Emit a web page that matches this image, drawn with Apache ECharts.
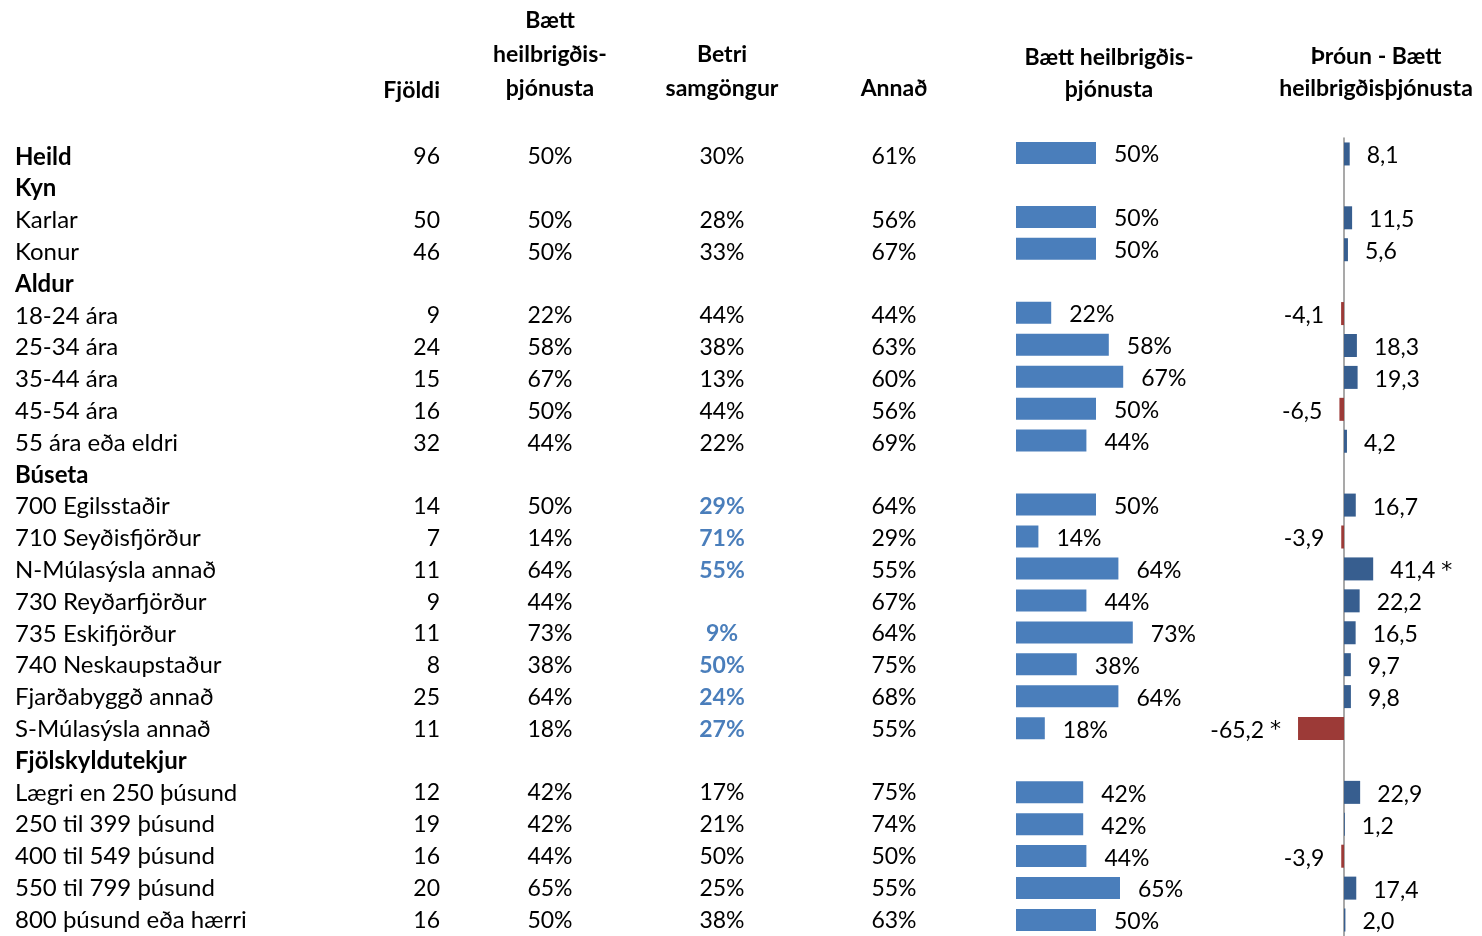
<!DOCTYPE html>
<html>
<head>
<meta charset="utf-8">
<script src="https://cdn.jsdelivr.net/npm/echarts@6/dist/echarts.min.js"></script>
<style>
html, body { margin: 0; padding: 0; background: #fff; }
#chart { width: 1482px; height: 936px; }
</style>
</head>
<body>
<div id="chart"></div>
<script>
// rows of the table, top to bottom
const rows = ['Heild', 'Kyn', 'Karlar', 'Konur', 'Aldur', '18-24 ára', '25-34 ára', '35-44 ára', '45-54 ára',
    '55 ára eða eldri', 'Búseta', '700 Egilsstaðir', '710 Seyðisfjörður', 'N-Múlasýsla annað', '730 Reyðarfjörður',
    '735 Eskifjörður', '740 Neskaupstaður', 'Fjarðabyggð annað', 'S-Múlasýsla annað', 'Fjölskyldutekjur',
    'Lægri en 250 þúsund', '250 til 399 þúsund', '400 til 549 þúsund', '550 til 799 þúsund', '800 þúsund eða hærri'];
const groupRows = ['Heild', 'Kyn', 'Aldur', 'Búseta', 'Fjölskyldutekjur'];

const fjoldi = [96, null, 50, 46, null, 9, 24, 15, 16, 32, null, 14, 7, 11, 9, 11, 8, 25, 11, null, 12, 19, 16, 20, 16];
const heilbr = [50, null, 50, 50, null, 22, 58, 67, 50, 44, null, 50, 14, 64, 44, 73, 38, 64, 18, null, 42, 42, 44, 65, 50];
const samgongur = [30, null, 28, 33, null, 44, 38, 13, 44, 22, null, 29, 71, 55, null, 9, 50, 24, 27, null, 17, 21, 50, 25, 38];
const annad = [61, null, 56, 67, null, 44, 63, 60, 56, 69, null, 64, 29, 55, 67, 64, 75, 68, 55, null, 75, 74, 50, 55, 63];
const samgMarked = [11, 12, 13, 15, 16, 17, 18]; // rows shown in blue bold
const trend = [8.1, null, 11.5, 5.6, null, -4.1, 18.3, 19.3, -6.5, 4.2, null, 16.7, -3.9, 41.4, 22.2, 16.5, 9.7, 9.8,
    -65.2, null, 22.9, 1.2, -3.9, 17.4, 2.0];
const trendSig = [13, 18]; // significant change, marked with *

const FONT = 'Lato';
const FS = 23;
const TOP = 139;
const TEXT_TOP = 141;
const H = 800;

const grids = [];
const xAxes = [];
const yAxes = [];
const series = [];

// one narrow grid per text column, values placed by the category axis
function textColumn(x, align, formatter, inside, fontSize) {
    const i = grids.length;
    const fs = fontSize || FS;
    grids.push({ left: x, top: TEXT_TOP, width: 1, height: H });
    xAxes.push({ gridIndex: i, type: 'value', show: false });
    yAxes.push({
        gridIndex: i, type: 'category', data: rows, inverse: true,
        axisLine: { show: false }, axisTick: { show: false }, splitLine: { show: false },
        axisLabel: {
            interval: 0, inside: !!inside, margin: 0, align: align,
            color: '#000', fontFamily: FONT, fontSize: fs,
            formatter: formatter,
            rich: {
                b: { fontFamily: FONT, fontSize: fs, fontWeight: 'bold', color: '#000' },
                hl: { fontFamily: FONT, fontSize: fs, fontWeight: 'bold', color: '#4a7ebb' }
            }
        }
    });
}

function pct(v) {
    return v == null ? '' : v + '%';
}

textColumn(15, 'left', (v) => groupRows.includes(v) ? '{b|' + v + '}' : v, true, 24);
textColumn(440, 'right', (v, i) => fjoldi[i] == null ? '' : String(fjoldi[i]));
textColumn(550, 'center', (v, i) => pct(heilbr[i]));
textColumn(722, 'center', (v, i) => {
    if (samgongur[i] == null) return '';
    return samgMarked.includes(i) ? '{hl|' + pct(samgongur[i]) + '}' : pct(samgongur[i]);
});
textColumn(894, 'center', (v, i) => pct(annad[i]));

// bar chart: Bætt heilbrigðisþjónusta
let gi = grids.length;
grids.push({ left: 1016, top: TOP - 2, width: 160, height: H });
xAxes.push({ gridIndex: gi, type: 'value', min: 0, max: 100, show: false });
yAxes.push({ gridIndex: gi, type: 'category', data: rows, inverse: true, show: false });
series.push({
    type: 'bar', xAxisIndex: gi, yAxisIndex: gi,
    data: heilbr, barWidth: 22,
    itemStyle: { color: '#4a7ebb' },
    label: {
        show: true, position: 'right', distance: 18, offset: [0, 2],
        color: '#000', fontFamily: FONT, fontSize: FS,
        formatter: (p) => p.value == null || isNaN(p.value) ? '' : p.value + '%'
    },
    silent: true
});

// diverging bar chart: Þróun
gi = grids.length;
const tMin = -70, tMax = 50, pxPerUnit = 0.705;
grids.push({ left: 1344 + tMin * pxPerUnit, top: TOP - 1, width: (tMax - tMin) * pxPerUnit, height: H });
xAxes.push({ gridIndex: gi, type: 'value', min: tMin, max: tMax, show: false });
yAxes.push({
    gridIndex: gi, type: 'category', data: rows, inverse: true,
    axisLine: { show: true, onZero: true, lineStyle: { color: '#8c8c8c', width: 1.5 } },
    axisTick: { show: false }, axisLabel: { show: false }
});
series.push({
    type: 'bar', xAxisIndex: gi, yAxisIndex: gi, barWidth: 23,
    data: trend.map((v, i) => v == null ? null : {
        value: v,
        itemStyle: { color: v < 0 ? '#9c3a37' : '#375e8f' },
        label: { position: v < 0 ? 'left' : 'right' }
    }),
    label: {
        show: true, distance: 17, offset: [0, 2],
        color: '#000', fontFamily: FONT, fontSize: FS,
        formatter: (p) => {
            if (p.value == null || isNaN(p.value)) return '';
            return p.value.toFixed(1).replace('.', ',') + (trendSig.includes(p.dataIndex) ? ' {s|*}' : '');
        },
        rich: {
            s: { fontFamily: 'DejaVu Sans', fontSize: 22, color: '#000', padding: [0, 0, 0, 0] }
        }
    },
    silent: true
});

const headStyle = { fontFamily: FONT, fontSize: FS, fontWeight: 'bold', color: '#000' };
const titles = [
    { text: 'Fjöldi', left: 440, top: 74, textAlign: 'right', lh: 34 },
    { text: 'Bætt\nheilbrigðis-\nþjónusta', left: 550, top: 4, textAlign: 'center', lh: 34 },
    { text: 'Betri\nsamgöngur', left: 722, top: 38, textAlign: 'center', lh: 34 },
    { text: 'Annað', left: 894, top: 72, textAlign: 'center', lh: 34 },
    { text: 'Bætt heilbrigðis-\nþjónusta', left: 1109, top: 42, textAlign: 'center', lh: 32 },
    { text: 'Þróun - Bætt\nheilbrigðisþjónusta', left: 1376, top: 41, textAlign: 'center', lh: 32 }
].map(t => ({
    text: t.text, left: t.left, top: t.top, textAlign: t.textAlign, padding: 0,
    textStyle: Object.assign({ lineHeight: t.lh }, headStyle)
}));

const chart = echarts.init(document.getElementById('chart'));
chart.setOption({
    backgroundColor: '#fff',
    animation: false,
    title: titles,
    grid: grids,
    xAxis: xAxes,
    yAxis: yAxes,
    series: series
});
</script>
</body>
</html>
